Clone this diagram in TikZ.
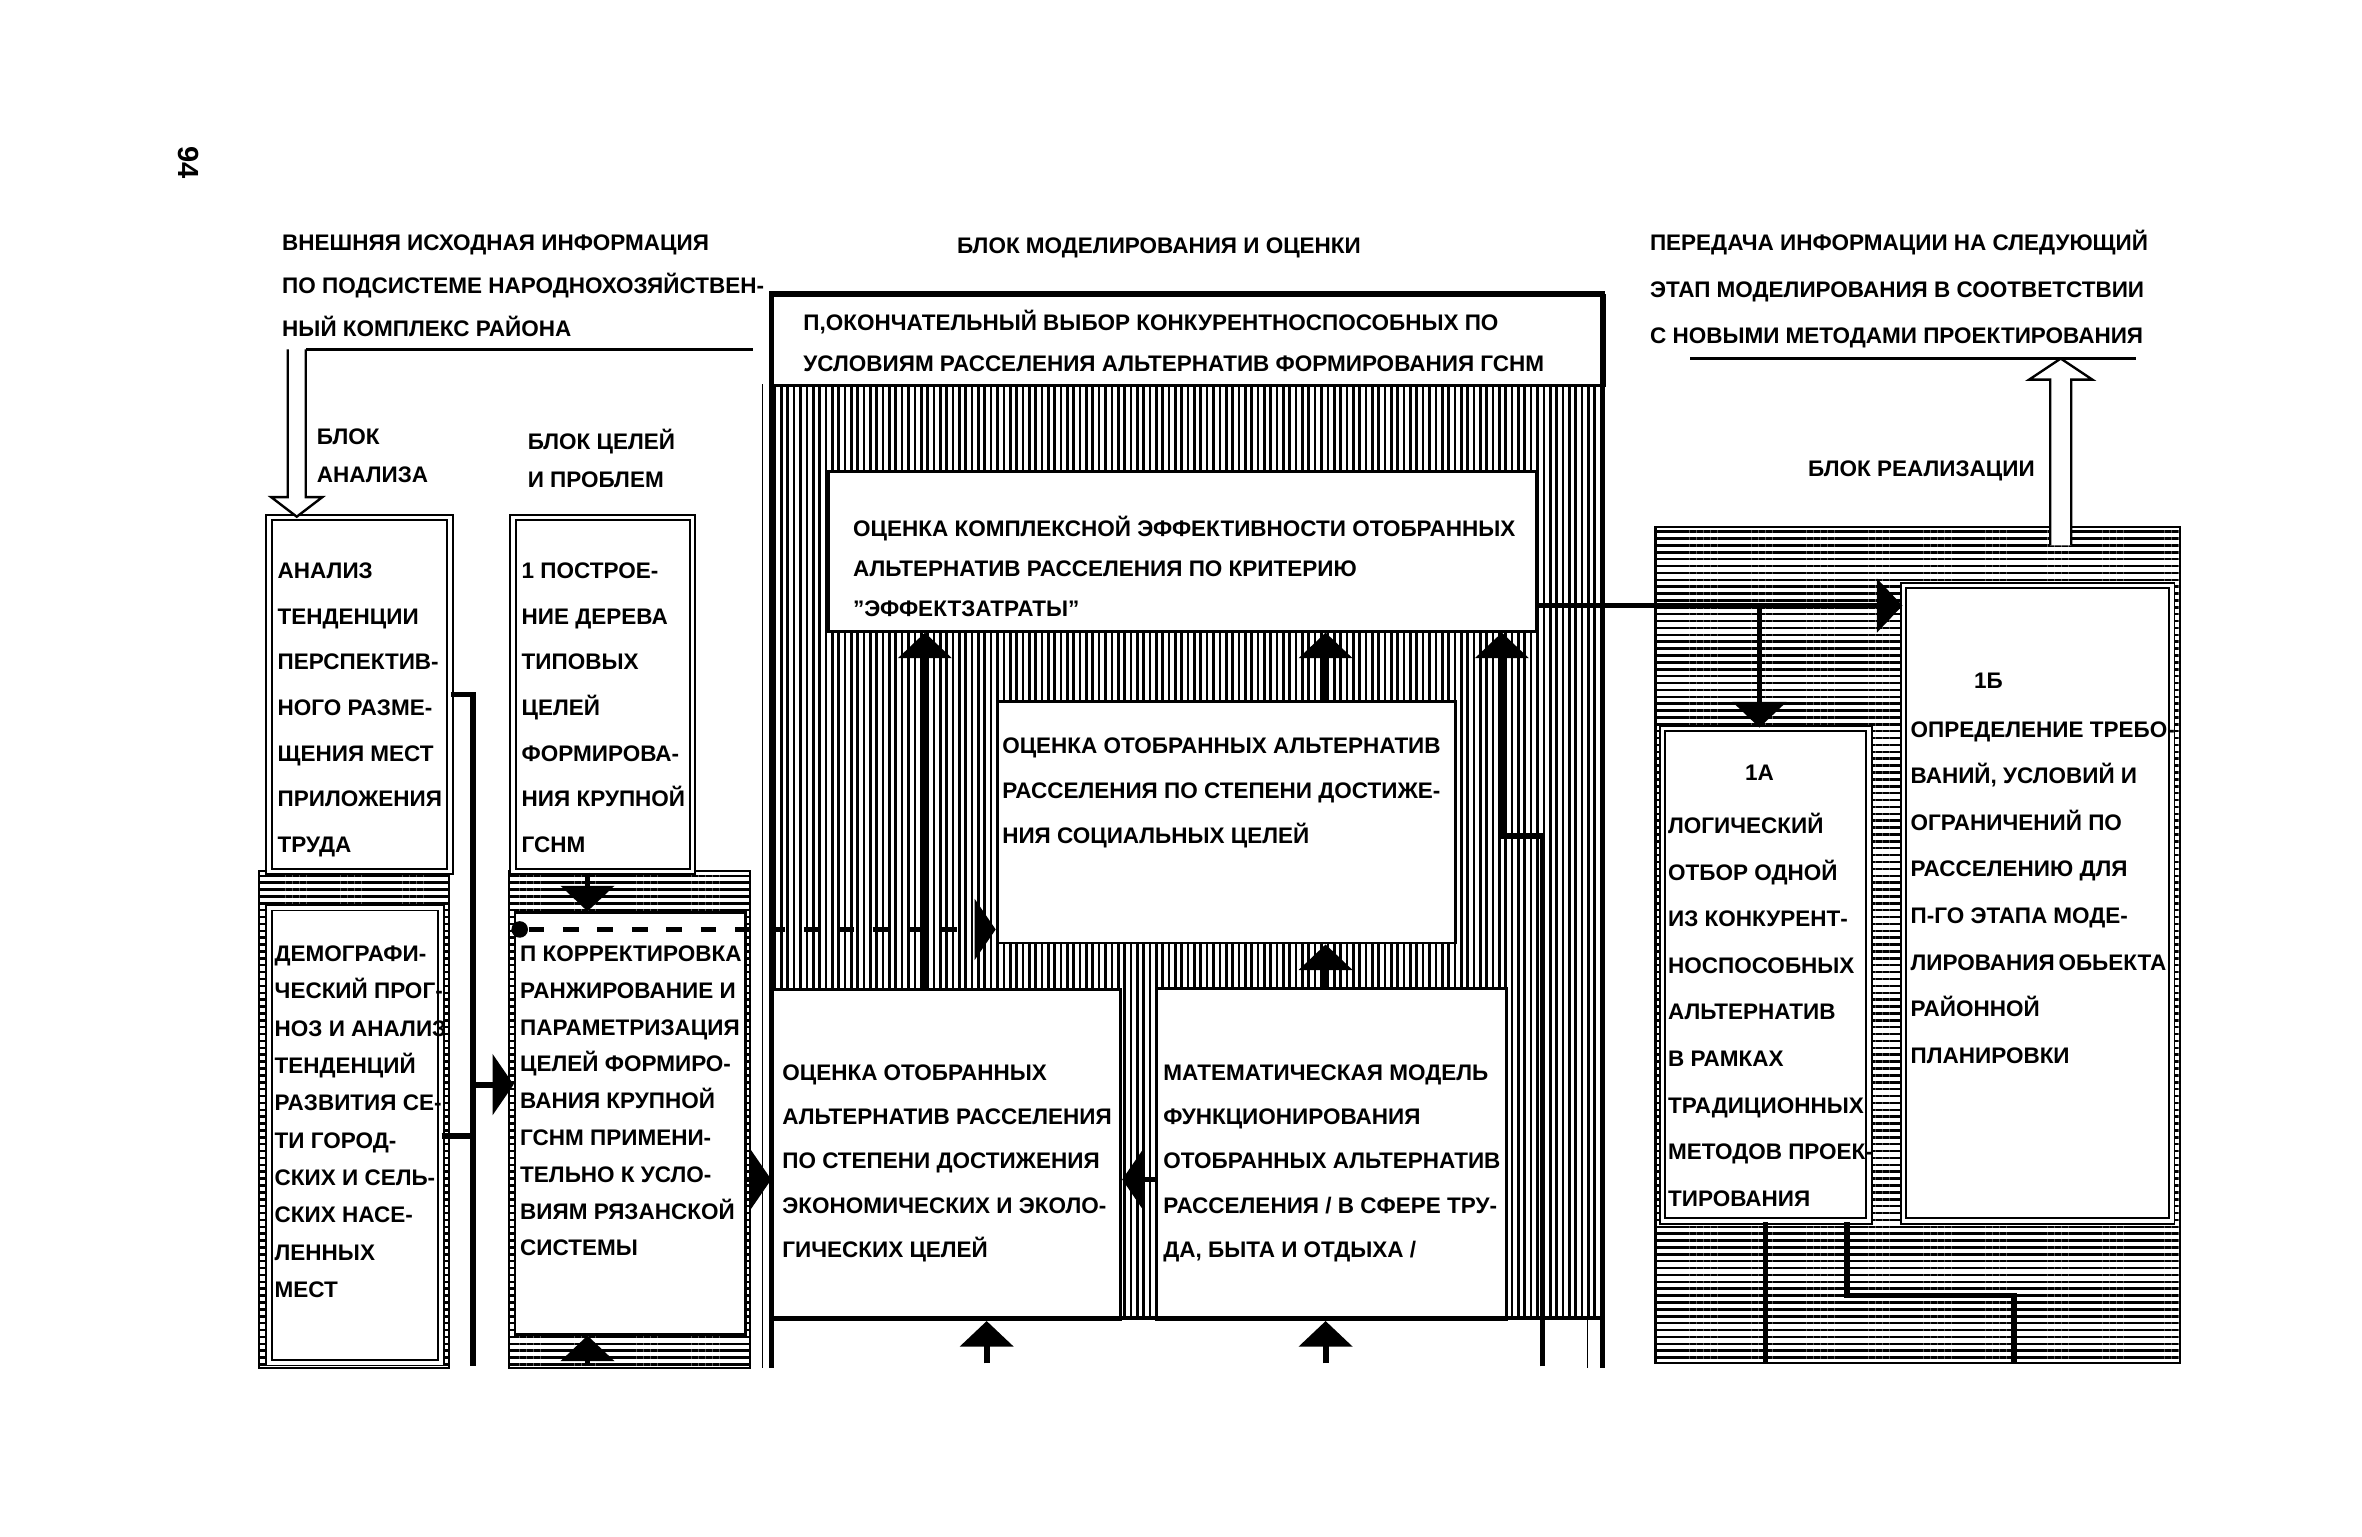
\documentclass[tikz,border=0pt]{standalone}
\usepackage{fontspec}
\setmainfont{Liberation Sans}
\usetikzlibrary{arrows.meta, patterns.meta}

\tikzset{
  frame/.style={line width=1.8pt},
  line/.style={line width=2.2pt},
  arr/.style={line width=2.2pt, -{Triangle[width=7mm, length=3.4mm]}},
  sarr/.style={line width=2.2pt, -{Triangle[width=8mm, length=2.8mm]}},
  box/.style={draw, line width=1.1pt, fill=white, anchor=north west, inner sep=0pt},
  dbox/.style={box, double, double distance=1.4pt, line width=0.7pt},
  vhatch/.style={pattern={Lines[angle=90, distance=2.4pt, line width=1pt]}},
  hhatch/.style={pattern={Lines[angle=0, distance=2.6pt, line width=0.95pt]}},
  txt/.style={anchor=north west, inner sep=0pt, align=left, font=\bfseries\fontsize{8.5}{#1}\selectfont},
  txt/.default=17,
  hollow/.style={draw, line width=0.9pt, fill=white},
}

\begin{document}
\begin{tikzpicture}[x=0.2mm, y=-0.2mm]
  \useasboundingbox (0,0) rectangle (1568,1020);
  % columns and rows for the connectors
  \coordinate (c1) at (614,0);
  \coordinate (c2) at (880,0);
  \coordinate (c3) at (997,0);
  \coordinate (c4) at (1024,0);
  \coordinate (c5) at (314,0);
  \coordinate (c6) at (390,0);
  \coordinate (c7) at (1168,0);
  \coordinate (c8) at (655,0);
  \coordinate (c9) at (1172,0);
  \coordinate (c10) at (1226,0);
  \coordinate (c11) at (1337,0);
  \coordinate (r1) at (0,402);
  \coordinate (r2) at (0,783);
  \coordinate (r3) at (0,720);
  \coordinate (r4) at (0,617);
  \coordinate (r5) at (0,461);
  \coordinate (r6) at (0,754);
  \coordinate (r7) at (0,555);
  \coordinate (r8) at (0,907);
  \coordinate (r9) at (0,860);
  \coordinate (r10) at (0,905);

  % hatched blocks
  \path[vhatch] (512,255) rectangle (1064,875);
  \draw[hhatch, line width=0.9pt] (1099,350) rectangle (1447,905);
  \draw[hhatch, line width=0.9pt] (172,578) rectangle (298,908);
  \draw[hhatch, line width=0.9pt] (338,578) rectangle (498,908);

  % boxes
  \node[box, minimum width=110.4mm, minimum height=12mm] (final) at (512,195) {};
  \node[box, minimum width=94mm, minimum height=21.2mm] (kompl) at (549,312) {};
  \node[box, minimum width=60.8mm, minimum height=32mm] (social) at (661,465) {};
  \node[box, minimum width=46.2mm, minimum height=43.8mm] (econ) at (512,656) {};
  \node[box, minimum width=46.4mm, minimum height=44mm] (matmod) at (767,655) {};
  \node[dbox, minimum width=24mm, minimum height=47mm] (analiz) at (178,343) {};
  \node[dbox, minimum width=22.8mm, minimum height=60.4mm] (demog) at (178,602) {};
  \node[dbox, minimum width=23.8mm, minimum height=47mm] (postr) at (340,343) {};
  \node[box, line width=0.9pt, minimum width=30.6mm, minimum height=56mm] (korr) at (341,605) {};
  \node[dbox, minimum width=27.4mm, minimum height=65.4mm] (oneA) at (1103,483) {};
  \node[dbox, minimum width=35.6mm, minimum height=84.4mm] (oneB) at (1263,388) {};

  % frame of the modelling block
  \draw[frame] (512,908) -- (512,195) -- (1064,195) -- (1064,908);
  \draw[frame] (512,875) -- (1064,875);
  \draw[thin] (506,255) -- (506,908);
  \draw[thin] (1054,875) -- (1054,908);

  % connectors
  \draw[arr] (econ.north -| c1) -- (kompl.south -| c1);
  \draw[arr] (social.north -| c2) -- (kompl.south -| c2);
  \draw[arr] (matmod.north -| c2) -- (social.south -| c2);
  \draw[arr] (c4 |- r8) -- (c4 |- r7) -- (c3 |- r7) -- (kompl.south -| c3);
  \draw[arr] (c8 |- r10) -- (econ.south -| c8);
  \draw[arr] (c2 |- r10) -- (matmod.south -| c2);
  \draw[sarr] (matmod.west |- r2) -- (econ.east |- r2);
  \draw[sarr] (korr.east |- r2) -- (econ.west |- r2);
  \node[circle, fill, inner sep=0pt, minimum size=2.2mm] (dot) at (345,617) {};
  \draw[sarr, dash pattern=on 6pt off 7pt] (dot) -- (social.west |- dot);
  \draw[arr] (kompl.east |- r1) -- (oneB.west |- r1);
  \draw[arr] (c7 |- r1) -- (oneA.north -| c7);
  \draw[line] (oneA.south -| c9) -- (c9 |- r10);
  \draw[line] (oneA.south -| c10) |- (c11 |- r9) -- (c11 |- r10);
  \draw[line] (analiz.east |- r5) -| (c5 |- r8);
  \draw[line] (demog.east |- r6) -- (c5 |- r6);
  \draw[sarr] (c5 |- r3) -- (korr.west |- r3);
  \draw[arr] (postr.south -| c6) -- (korr.north -| c6);
  \draw[arr] (c6 |- r8) -- (korr.south -| c6);

  % hollow arrows
  \draw[line width=1.2pt] (203,232) -- (500,232);
  \draw[hollow] (191,232) -- (191,330) -- (180,330) -- (197,343) -- (214,330) -- (203,330) -- (203,232);
  \draw[line width=1.2pt] (1122,238) -- (1418,238);
  \draw[hollow] (1361,362) -- (1361,252) -- (1347,252) -- (1368,238) -- (1389,252) -- (1375,252) -- (1375,362);

  % texts
  \node[font=\bfseries\fontsize{11}{11}\selectfont, rotate=-90] (pg) at (125,108) {94};
  \node[txt=16.2] (hdrL) at (187,155.5) {ВНЕШНЯЯ ИСХОДНАЯ ИНФОРМАЦИЯ\\ПО ПОДСИСТЕМЕ НАРОДНОХОЗЯЙСТВЕН-\\НЫЙ КОМПЛЕКС РАЙОНА};
  \node[txt] (hdrM) at (635,157.5) {БЛОК МОДЕЛИРОВАНИЯ И ОЦЕНКИ};
  \node[txt=17.6] (hdrR) at (1095,152.5) {ПЕРЕДАЧА ИНФОРМАЦИИ НА СЛЕДУЮЩИЙ\\ЭТАП МОДЕЛИРОВАНИЯ В СООТВЕТСТВИИ\\С НОВЫМИ МЕТОДАМИ ПРОЕКТИРОВАНИЯ};
  \node[txt=14.2] (lblA) at (210,284.5) {БЛОК\\АНАЛИЗА};
  \node[txt=14.2] (lblC) at (350,284.5) {БЛОК ЦЕЛЕЙ\\И ПРОБЛЕМ};
  \node[txt] (lblR) at (1200,305.5) {БЛОК РЕАЛИЗАЦИИ};
  \node[txt=15.4] (tFinal) at (533,205.5) {П,ОКОНЧАТЕЛЬНЫЙ ВЫБОР КОНКУРЕНТНОСПОСОБНЫХ ПО\\УСЛОВИЯМ РАССЕЛЕНИЯ АЛЬТЕРНАТИВ ФОРМИРОВАНИЯ ГСНМ};
  \node[txt=15.1] (tKompl) at (566,342.5) {ОЦЕНКА КОМПЛЕКСНОЙ ЭФФЕКТИВНОСТИ ОТОБРАННЫХ\\АЛЬТЕРНАТИВ РАССЕЛЕНИЯ ПО КРИТЕРИЮ\\''ЭФФЕКТЗАТРАТЫ''};
  \node[txt] (tSocial) at (665,489.5) {ОЦЕНКА ОТОБРАННЫХ АЛЬТЕРНАТИВ\\РАССЕЛЕНИЯ ПО СТЕПЕНИ ДОСТИЖЕ-\\НИЯ СОЦИАЛЬНЫХ ЦЕЛЕЙ};
  \node[txt=16.7] (tEcon) at (519,706.5) {ОЦЕНКА ОТОБРАННЫХ\\АЛЬТЕРНАТИВ РАССЕЛЕНИЯ\\ПО СТЕПЕНИ ДОСТИЖЕНИЯ\\ЭКОНОМИЧЕСКИХ И ЭКОЛО-\\ГИЧЕСКИХ ЦЕЛЕЙ};
  \node[txt=16.7] (tMat) at (772,706.5) {МАТЕМАТИЧЕСКАЯ МОДЕЛЬ\\ФУНКЦИОНИРОВАНИЯ\\ОТОБРАННЫХ АЛЬТЕРНАТИВ\\РАССЕЛЕНИЯ / В СФЕРЕ ТРУ-\\ДА, БЫТА И ОТДЫХА /};
  \node[txt=17.2] (tAnaliz) at (184,373.5) {АНАЛИЗ\\ТЕНДЕНЦИИ\\ПЕРСПЕКТИВ-\\НОГО РАЗМЕ-\\ЩЕНИЯ МЕСТ\\ПРИЛОЖЕНИЯ\\ТРУДА};
  \node[txt=17.2] (tPostr) at (346,373.5) {1 ПОСТРОЕ-\\НИЕ ДЕРЕВА\\ТИПОВЫХ\\ЦЕЛЕЙ\\ФОРМИРОВА-\\НИЯ КРУПНОЙ\\ГСНМ};
  \node[txt=14.1] (tDemog) at (182,627.5) {ДЕМОГРАФИ-\\ЧЕСКИЙ ПРОГ-\\НОЗ И АНАЛИЗ\\ТЕНДЕНЦИЙ\\РАЗВИТИЯ СЕ-\\ТИ ГОРОД-\\СКИХ И СЕЛЬ-\\СКИХ НАСЕ-\\ЛЕННЫХ\\МЕСТ};
  \node[txt=13.9] (tKorr) at (345,627.5) {П КОРРЕКТИРОВКА\\РАНЖИРОВАНИЕ И\\ПАРАМЕТРИЗАЦИЯ\\ЦЕЛЕЙ ФОРМИРО-\\ВАНИЯ КРУПНОЙ\\ГСНМ ПРИМЕНИ-\\ТЕЛЬНО К УСЛО-\\ВИЯМ РЯЗАНСКОЙ\\СИСТЕМЫ};
  \node[font=\bfseries\fontsize{8.5}{10}\selectfont] (numA) at (1168,513) {1А};
  \node[txt=17.6] (tOneA) at (1107,539.5) {ЛОГИЧЕСКИЙ\\ОТБОР ОДНОЙ\\ИЗ КОНКУРЕНТ-\\НОСПОСОБНЫХ\\АЛЬТЕРНАТИВ\\В РАМКАХ\\ТРАДИЦИОННЫХ\\МЕТОДОВ ПРОЕК-\\ТИРОВАНИЯ};
  \node[font=\bfseries\fontsize{8.5}{10}\selectfont] (numB) at (1320,452) {1Б};
  \node[txt=17.6] (tOneB) at (1268,478.5) {ОПРЕДЕЛЕНИЕ ТРЕБО-\\ВАНИЙ, УСЛОВИЙ И\\ОГРАНИЧЕНИЙ ПО\\РАССЕЛЕНИЮ ДЛЯ\\П-ГО ЭТАПА МОДЕ-\\ЛИРОВАНИЯ\,ОБЬЕКТА\\РАЙОННОЙ\\ПЛАНИРОВКИ};
\end{tikzpicture}
\end{document}
